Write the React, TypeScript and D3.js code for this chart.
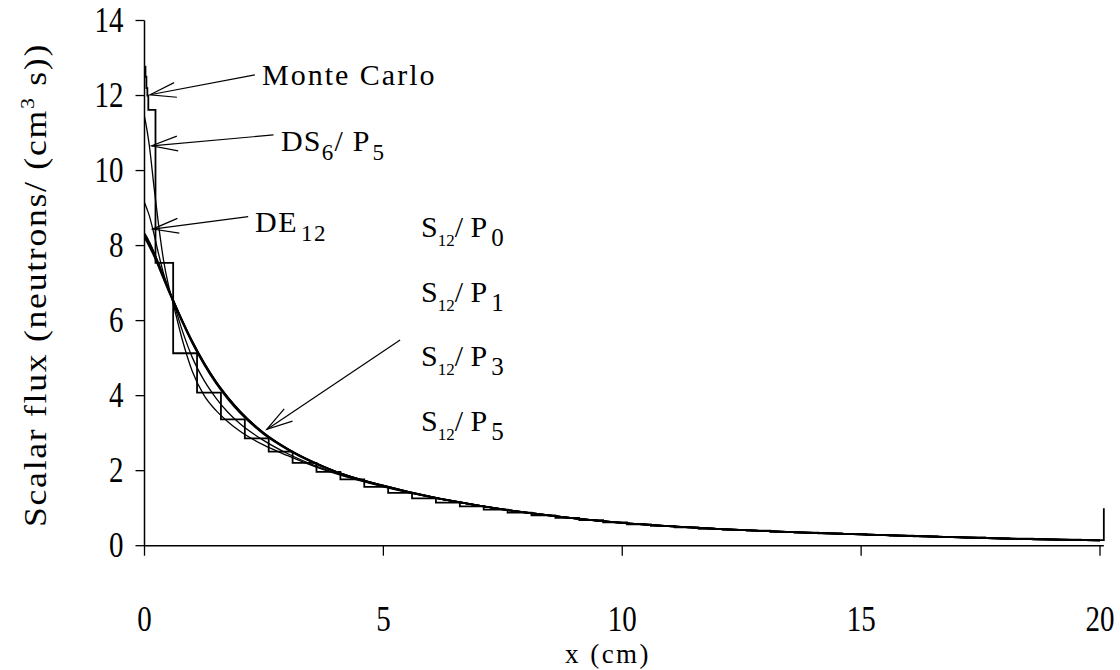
import React from "react";
import * as d3 from "d3";

const W = 1120;
const H = 670;

const xTicks = [0, 5, 10, 15, 20];
const yTicks = [0, 2, 4, 6, 8, 10, 12, 14];

// Monte Carlo tally: bin edges (cm) and mean scalar flux in each bin
const mcEdges = [
  0, 0.02, 0.04, 0.06, 0.08, 0.23, 0.6, 1.1, 1.6, 2.1, 2.6, 3.1, 3.6, 4.1, 4.6, 5.1, 5.6, 6.1,
  6.6, 7.1, 7.6, 8.1, 8.6, 9.1, 9.6, 10.1, 10.6, 11.1, 11.6, 12.1, 12.6, 13.1, 13.6, 14.1,
  14.6, 15.1, 15.6, 16.1, 16.6, 17.1, 17.6, 18.1, 18.6, 19.1, 19.6, 20.08,
];
const mcFlux = [
  12.77, 12.5, 12.2, 12.0, 11.62, 7.54, 5.13, 4.08, 3.37, 2.86, 2.51, 2.21, 1.97, 1.77, 1.57,
  1.41, 1.26, 1.15, 1.05, 0.96, 0.88, 0.81, 0.74, 0.68, 0.62, 0.57, 0.53, 0.49, 0.45, 0.42,
  0.4, 0.37, 0.35, 0.33, 0.31, 0.29, 0.27, 0.25, 0.23, 0.22, 0.2, 0.19, 0.17, 0.16, 0.15,
];
// the tally trace closes with a rise at the outer boundary
const mcEndFlux = 1.0;

// deterministic solutions, sampled on a common spatial grid (cm)
const gridX = [
  0, 0.05, 0.1, 0.2, 0.3, 0.4, 0.5, 0.6, 0.8, 1.0, 1.25, 1.5, 1.75, 2.0, 2.5, 3.0, 3.5, 4, 5, 6,
  7, 8, 9, 10, 12, 14, 16, 18, 20,
];
const s12p0 = [
  8.2, 8.1, 7.98, 7.72, 7.42, 7.11, 6.8, 6.51, 5.93, 5.4, 4.82, 4.32, 3.9, 3.54, 2.97, 2.56,
  2.23, 1.97, 1.59, 1.3, 1.07, 0.88, 0.73, 0.61, 0.45, 0.34, 0.26, 0.19, 0.14,
];
const s12p1 = [
  8.26, 8.15, 8.03, 7.76, 7.46, 7.14, 6.83, 6.53, 5.96, 5.43, 4.85, 4.35, 3.93, 3.57, 2.99,
  2.57, 2.24, 1.98, 1.6, 1.3, 1.07, 0.88, 0.73, 0.61, 0.45, 0.34, 0.26, 0.19, 0.14,
];
const s12p3 = [
  8.32, 8.22, 8.09, 7.81, 7.5, 7.17, 6.85, 6.55, 5.97, 5.44, 4.86, 4.36, 3.94, 3.58, 3.0,
  2.58, 2.25, 1.98, 1.6, 1.3, 1.07, 0.88, 0.73, 0.61, 0.45, 0.34, 0.26, 0.19, 0.14,
];
const s12p5 = [
  8.3, 8.2, 8.08, 7.8, 7.5, 7.17, 6.85, 6.55, 5.98, 5.45, 4.87, 4.37, 3.95, 3.58, 3.0, 2.58,
  2.25, 1.98, 1.6, 1.3, 1.07, 0.88, 0.73, 0.61, 0.45, 0.34, 0.26, 0.19, 0.14,
];
const de12 = [
  9.15, 8.98, 8.8, 8.3, 7.75, 7.25, 6.85, 6.5, 5.7, 5.02, 4.4, 3.93, 3.55, 3.25, 2.8, 2.45,
  2.17, 1.94, 1.58, 1.29, 1.07, 0.88, 0.73, 0.61, 0.45, 0.34, 0.26, 0.19, 0.14,
];
const ds6p5 = [
  11.44, 11.1, 10.68, 9.55, 8.5, 7.6, 6.95, 6.45, 5.45, 4.65, 4.0, 3.6, 3.3, 3.05, 2.68, 2.4,
  2.14, 1.92, 1.57, 1.29, 1.07, 0.88, 0.73, 0.61, 0.45, 0.34, 0.26, 0.19, 0.14,
];

// arrow annotations: tail and tip in data units (x cm, flux)
const arrows = [
  { tail: [2.31, 12.55], tip: [0.115, 12.02] },
  { tail: [2.7, 10.95], tip: [0.15, 10.66] },
  { tail: [2.17, 8.77], tip: [0.17, 8.44] },
  { tail: [5.35, 5.48], tip: [2.56, 3.1] },
];

const s12Orders = ["0", "1", "3", "5"];

const FONT = "'Liberation Serif', 'Times New Roman', serif";
// axis lettering is drawn a little taller than it is wide
const STRETCH = 1.2;

export default function App() {
  const x = d3.scaleLinear().domain([0, 20]).range([144.5, 1100]);
  const y = d3.scaleLinear().domain([0, 14]).range([545.7, 20.5]);

  const smooth = d3
    .line<number>()
    .x((_, i) => x(gridX[i]))
    .y((v) => y(v))
    .curve(d3.curveMonotoneX);

  // step trace of the tally
  const mcPts: [number, number][] = mcFlux.map((v, i) => [mcEdges[i], v]);
  mcPts.push([mcEdges[mcEdges.length - 1], mcFlux[mcFlux.length - 1]]);
  mcPts.push([mcEdges[mcEdges.length - 1], mcEndFlux]);
  const step = d3
    .line<[number, number]>()
    .x((d) => x(d[0]))
    .y((d) => y(d[1]))
    .curve(d3.curveStepAfter);

  const heavy = [s12p0, s12p1, s12p3, s12p5];
  const light = [de12, ds6p5];

  const arrowHead = (tail: number[], tip: number[]) => {
    const tx = x(tip[0]);
    const ty = y(tip[1]);
    const ang = Math.atan2(y(tail[1]) - ty, x(tail[0]) - tx);
    const len = 27;
    const spread = (16 * Math.PI) / 180;
    const a1 = ang + spread;
    const a2 = ang - spread;
    return `M${tx + len * Math.cos(a1)},${ty + len * Math.sin(a1)}L${tx},${ty}L${
      tx + len * Math.cos(a2)
    },${ty + len * Math.sin(a2)}`;
  };

  const x0 = x(0);
  const y0 = y(0);

  return (
    <svg width={W} height={H} style={{ position: "absolute", left: 0, top: 0, background: "#fff" }}>
      <rect width={W} height={H} fill="#fff" />
      <g fontFamily={FONT} fill="#000">
        {/* axes */}
        <line x1={x0} y1={y(14)} x2={x0} y2={y0} stroke="#000" strokeWidth={1.5} />
        <line x1={x0} y1={y0} x2={x(20.08)} y2={y0} stroke="#000" strokeWidth={1.5} />
        {yTicks.map((t) => (
          <g key={`y${t}`}>
            <line x1={x0 - 9} x2={x0} y1={y(t)} y2={y(t)} stroke="#000" strokeWidth={1.3} />
            <text
              transform={`translate(${x0 - 21},${y(t) + 11.5}) scale(1,${STRETCH})`}
              textAnchor="end"
              fontSize={29}
            >
              {t}
            </text>
          </g>
        ))}
        {xTicks.map((t) => (
          <g key={`x${t}`}>
            <line x1={x(t)} x2={x(t)} y1={y0} y2={y0 + 10} stroke="#000" strokeWidth={1.3} />
            <text
              transform={`translate(${x(t)},631) scale(1,${STRETCH})`}
              textAnchor="middle"
              fontSize={29}
            >
              {t}
            </text>
          </g>
        ))}
        <text
          transform="translate(608,663) scale(1,1.05)"
          textAnchor="middle"
          fontSize={27}
          letterSpacing={2.5}
        >
          x (cm)
        </text>
        <text
          transform="translate(46,285) rotate(-90) scale(1.15,1)"
          textAnchor="middle"
          fontSize={31}
          letterSpacing={1.5}
        >
          Scalar flux (neutrons/ (cm
          <tspan fontSize={19} dy={-12}>3</tspan>
          <tspan dy={12}> s))</tspan>
        </text>

        {/* Monte Carlo tally */}
        <path d={step(mcPts) ?? ""} fill="none" stroke="#000" strokeWidth={1.8} />

        {/* deterministic curves */}
        {light.map((c, i) => (
          <path key={`l${i}`} d={smooth(c) ?? ""} fill="none" stroke="#000" strokeWidth={1.3} />
        ))}
        {heavy.map((c, i) => (
          <path key={`h${i}`} d={smooth(c) ?? ""} fill="none" stroke="#000" strokeWidth={1.7} />
        ))}

        {/* annotations */}
        {arrows.map((a, i) => (
          <g key={`a${i}`} stroke="#000" strokeWidth={1.2} fill="none">
            <line x1={x(a.tail[0])} y1={y(a.tail[1])} x2={x(a.tip[0])} y2={y(a.tip[1])} />
            <path d={arrowHead(a.tail, a.tip)} />
          </g>
        ))}
        <text x={262} y={85} fontSize={30} letterSpacing={2}>
          Monte Carlo
        </text>
        <text x={281} y={151} fontSize={30} letterSpacing={1.2}>
          DS<tspan fontSize={23} dy={9}>6</tspan>
          <tspan dy={-9}>/ P</tspan>
          <tspan fontSize={23} dx={2} dy={9}>5</tspan>
        </text>
        <text x={255} y={232} fontSize={30} letterSpacing={1.5}>
          DE<tspan fontSize={23} dx={3} dy={9}>12</tspan>
        </text>
        {s12Orders.map((o, i) => (
          <text key={`s${o}`} x={421} y={237 + i * 64.5} fontSize={30}>
            S<tspan fontSize={17} dy={9}>12</tspan>
            <tspan dy={-9}>/ P</tspan>
            <tspan fontSize={25} dx={4} dy={9}>
              {o}
            </tspan>
          </text>
        ))}
      </g>
    </svg>
  );
}
